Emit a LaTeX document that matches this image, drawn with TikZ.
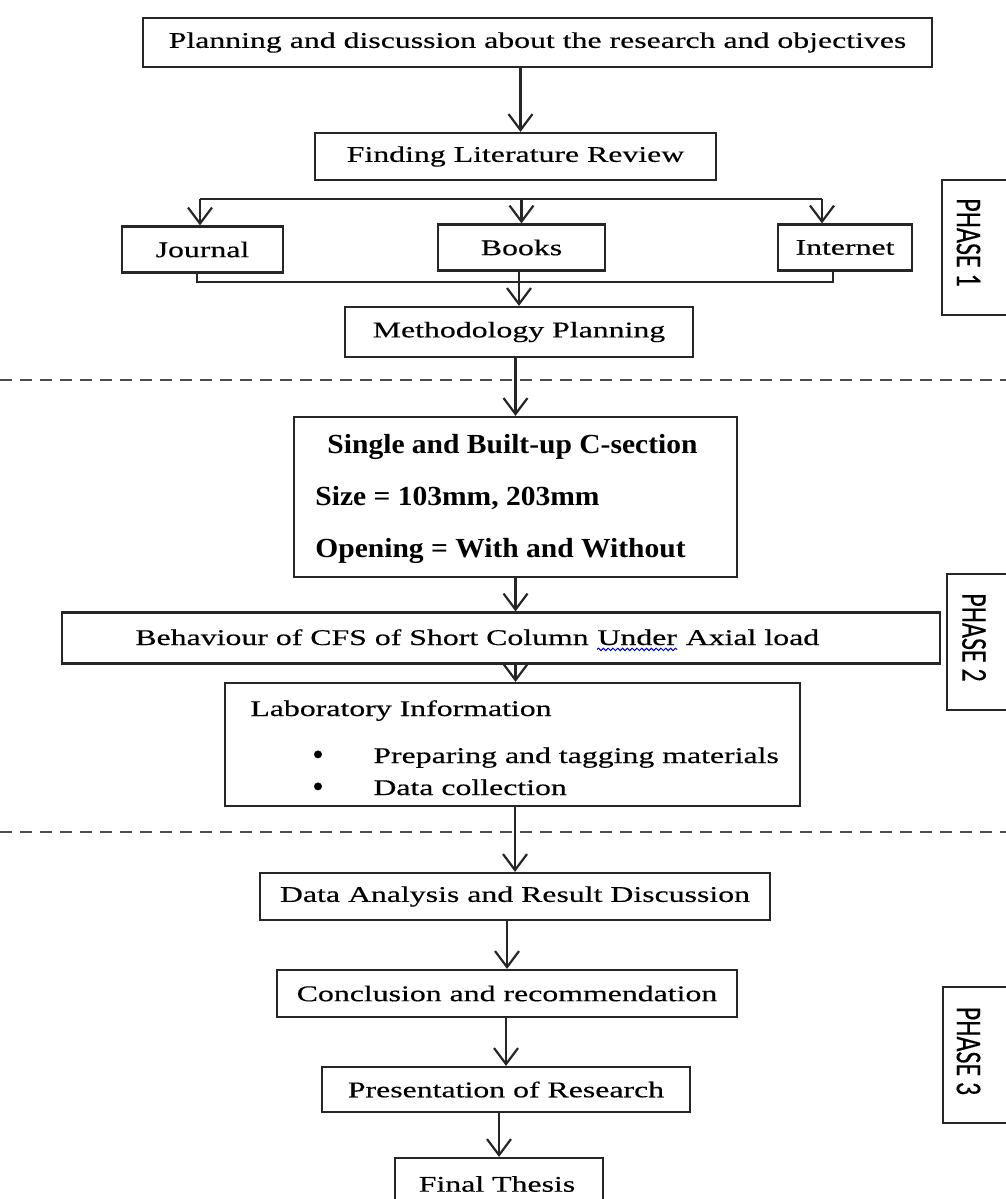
\documentclass[tikz,border=0pt]{standalone}
\usepackage{fontspec}
\setmainfont{Liberation Serif}[FakeStretch=1.42,FakeBold=0.4]
\newfontfamily\boldserif{Liberation Serif Bold}[FakeStretch=1.07]
\newfontfamily\phasefont{Carlito}[FakeBold=0.3]
\usetikzlibrary{arrows.meta,decorations.pathmorphing}

\tikzset{
 fbox/.style={draw=black!85, line width=1.1pt, inner sep=0pt, font=\fontsize{11.2}{13}\selectfont},
 txt/.style={inner sep=0pt, font=\fontsize{11.2}{13}\selectfont},
 btxt/.style={inner sep=0pt, font=\boldserif\fontsize{13.8}{16}\selectfont},
 bul/.style={inner sep=0pt, font=\fontsize{16}{18}\selectfont},
 link/.style={draw=black!85, line width=1.1pt},
 arr/.style={link, -{Straight Barb[length=8pt,width=12pt,line width=1.1pt]}},
 phasebox/.style={draw=black!85, line width=1.1pt},
 phasetxt/.style={inner sep=0pt, rotate=-90, font=\phasefont\fontsize{13}{15}\selectfont},
 sep/.style={draw=black!70, line width=1pt, dash pattern=on 6pt off 4pt},
 spell/.style={draw=blue!80!black, line width=0.5pt, decorate, decoration={snake, amplitude=0.6pt, segment length=2.4pt}},
}

\begin{document}
\begin{tikzpicture}[x=0.5pt,y=-0.5pt]
\useasboundingbox (0,0) rectangle (1006,1199);
\clip (0,0) rectangle (1006,1199);

% ---------- PHASE 1 ----------
\node[fbox, minimum width=394.5pt, minimum height=24.5pt] (top) at (537.5,42.5)
  {Planning and discussion about the research and objectives};
\node[fbox, minimum width=200.5pt, minimum height=23.5pt] (lit) at (515.5,156.5)
  {Finding Literature Review};
\node[fbox, minimum width=80.5pt, minimum height=23pt] (journal) at (202.5,249.5) {Journal};
\node[fbox, minimum width=83.5pt, minimum height=23pt] (books) at (521.5,247.5) {Books};
\node[fbox, minimum width=67pt, minimum height=23pt] (internet) at (845,247.5) {Internet};
\node[fbox, minimum width=174pt, minimum height=25pt] (method) at (519,332) {Methodology Planning};

\draw[arr] ([xshift=2.5pt]lit.north |- top.south) -- ([xshift=2.5pt]lit.north);
\coordinate (b1) at (200,199);
\coordinate (b3) at (822,199);
\draw[link] (b1) -- (b3);
\draw[arr] (b1) -- (b1 |- journal.north);
\draw[arr] (b1 -| books.north) -- (books.north);
\draw[arr] (b3) -- (b3 |- internet.north);
\coordinate (c1) at (197,282);
\coordinate (c3) at (833,282);
\draw[link] (c1 |- journal.south) -- (c1) -- (c3) -- (c3 |- internet.south);
\draw[arr] (books.south -| method.north) -- (method.north);

\coordinate (d1l) at (0,380);
\coordinate (d1r) at (1006,380);
\draw[sep] (d1l) -- (d1r);

% ---------- PHASE 2 ----------
\node[fbox, minimum width=221.5pt, minimum height=80pt] (single) at (515.5,497) {};
\node[btxt, anchor=base] (s1) at (512.5,453) {Single and Built-up C-section};
\node[btxt, anchor=base west] (s2) at (315,505) {Size = 103mm, 203mm};
\node[btxt, anchor=base west] (s3) at (315,557) {Opening = With and Without};

\node[fbox, minimum width=439pt, minimum height=25.5pt] (behav) at (501,638) {};
\node[txt, anchor=base west] (bt1) at (135,645) {Behaviour of CFS of Short Column};
\node[txt, anchor=base west, xshift=4pt] (bt2) at (bt1.base east) {Under};
\node[txt, anchor=base west, xshift=4pt] (bt3) at (bt2.base east) {Axial load};
\draw[spell] ([yshift=-2.2pt]bt2.base west) -- ([yshift=-2.2pt]bt2.base east);

\node[fbox, minimum width=287.5pt, minimum height=61.5pt] (lab) at (512.5,744.5) {};
\node[txt, anchor=base west] (l1) at (250,716) {Laboratory Information};
\node[bul, anchor=base] (bu1) at (318,765) {\scalebox{0.72}[1]{\textbullet}};
\node[txt, anchor=base west] (l2) at (373,763) {Preparing and tagging materials};
\node[bul, anchor=base] (bu2) at (318,797) {\scalebox{0.72}[1]{\textbullet}};
\node[txt, anchor=base west] (l3) at (373,795) {Data collection};

\draw[arr] (method.south -| single.north) -- (single.north);
\draw[arr] (single.south) -- (single.south |- behav.north);
\draw[arr] (single.south |- behav.south) -- (single.south |- lab.north);

\coordinate (d2l) at (0,832);
\coordinate (d2r) at (1006,832);
\draw[sep] (d2l) -- (d2r);

% ---------- PHASE 3 ----------
\node[fbox, minimum width=255pt, minimum height=23.5pt] (data) at (515,896.5)
  {Data Analysis and Result Discussion};
\node[fbox, minimum width=230pt, minimum height=23.5pt] (concl) at (507,993.5)
  {Conclusion and recommendation};
\node[fbox, minimum width=184pt, minimum height=22.5pt] (pres) at (506,1089.5)
  {Presentation of Research};
\node[fbox, minimum width=104pt, minimum height=35pt] (final) at (499,1193) {};
\node[txt] (ftext) at (497,1184) {Final Thesis};

\draw[arr] (lab.south -| data.north) -- (data.north);
\draw[arr] (data.south -| concl.north) -- (concl.north);
\draw[arr] (concl.south -| pres.north) -- (pres.north);
\draw[arr] (pres.south -| final.north) -- (final.north);

% ---------- Phase labels ----------
\draw[phasebox] (942,180) rectangle (1030,315);
\node[phasetxt] (p1) at (968.5,242.5) {\scalebox{1}[1.4]{PHASE 1}};
\draw[phasebox] (947,574) rectangle (1030,710);
\node[phasetxt] (p2) at (974,637.5) {\scalebox{1}[1.4]{PHASE 2}};
\draw[phasebox] (943,987) rectangle (1030,1123);
\node[phasetxt] (p3) at (968.5,1051) {\scalebox{1}[1.4]{PHASE 3}};
\end{tikzpicture}
\end{document}
